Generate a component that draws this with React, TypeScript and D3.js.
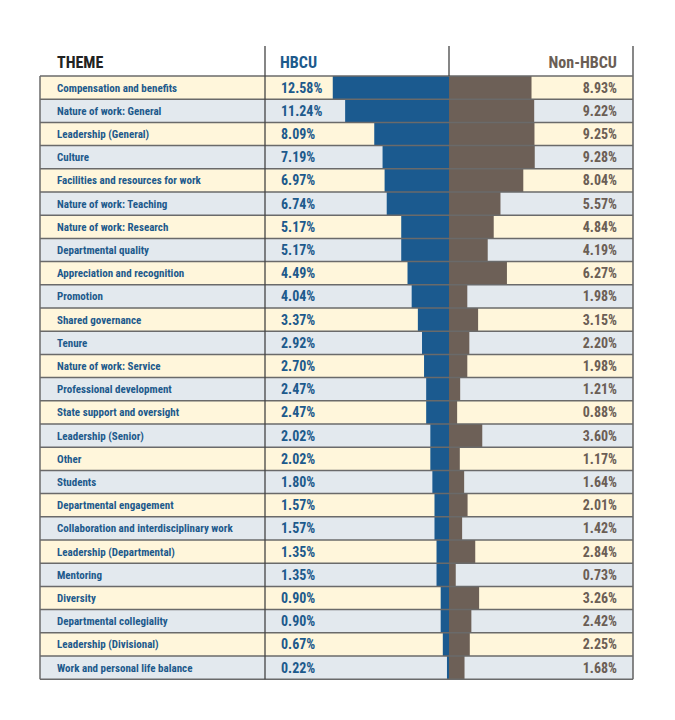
import React from 'react';
import * as d3 from 'd3';

const themes = [
  'Compensation and benefits', 'Nature of work: General', 'Leadership (General)', 'Culture',
  'Facilities and resources for work', 'Nature of work: Teaching', 'Nature of work: Research',
  'Departmental quality', 'Appreciation and recognition', 'Promotion', 'Shared governance', 'Tenure',
  'Nature of work: Service', 'Professional development', 'State support and oversight',
  'Leadership (Senior)', 'Other', 'Students', 'Departmental engagement',
  'Collaboration and interdisciplinary work', 'Leadership (Departmental)', 'Mentoring', 'Diversity',
  'Departmental collegiality', 'Leadership (Divisional)', 'Work and personal life balance',
];
const hbcu = [12.58, 11.24, 8.09, 7.19, 6.97, 6.74, 5.17, 5.17, 4.49, 4.04, 3.37, 2.92, 2.70, 2.47, 2.47, 2.02, 2.02, 1.80, 1.57, 1.57, 1.35, 1.35, 0.90, 0.90, 0.67, 0.22];
const nonHbcu = [8.93, 9.22, 9.25, 9.28, 8.04, 5.57, 4.84, 4.19, 6.27, 1.98, 3.15, 2.20, 1.98, 1.21, 0.88, 3.60, 1.17, 1.64, 2.01, 1.42, 2.84, 0.73, 3.26, 2.42, 2.25, 1.68];

const W = 675;
const H = 720;
const left = 40;
const colTheme = 265;
const mid = 449;
const right = 633;
const top = 76;
const rowH = 23.2;

const BLUE = '#1b5a8f';
const BROWN = '#6d6057';
const TEXT_BLUE = '#1d5a8c';
const TEXT_BROWN = '#6b5e55';
const LINE = '#6a6a6a';
const FONT = '"Liberation Sans Narrow", "Roboto Condensed", "DejaVu Sans Condensed", sans-serif';

export default function App() {
  const y = d3.scaleBand<number>()
    .domain(d3.range(themes.length))
    .range([top, top + rowH * themes.length]);
  // same px-per-percent on both sides of the center line
  const x = d3.scaleLinear().domain([0, 10]).range([0, 92.4]);
  const bottom = top + rowH * themes.length;

  return (
    <svg width={W} height={H} style={{ display: 'block', margin: -8 }}>
      <rect width={W} height={H} fill="#fff" />
      {themes.map((t, i) => (
        <rect key={'bg' + i} x={left} y={y(i)!} width={right - left} height={y.bandwidth()}
          fill={i % 2 === 0 ? '#fff6db' : '#e3e9ee'} />
      ))}
      {hbcu.map((v, i) => (
        <rect key={'h' + i} x={mid - x(v)} y={y(i)!} width={x(v)} height={y.bandwidth()} fill={BLUE} />
      ))}
      {nonHbcu.map((v, i) => (
        <rect key={'n' + i} x={mid} y={y(i)!} width={x(v)} height={y.bandwidth()} fill={BROWN} />
      ))}
      {/* row separators */}
      {d3.range(themes.length + 1).map(i => {
        const yy = top + i * rowH;
        return <line key={'l' + i} x1={left} x2={right} y1={yy} y2={yy} stroke={LINE} strokeWidth={1.5} />;
      })}
      <line x1={left} x2={left} y1={top} y2={bottom} stroke={LINE} strokeWidth={1.5} />
      <line x1={colTheme} x2={colTheme} y1={46} y2={bottom} stroke="#444" strokeWidth={1.3} />
      <line x1={mid} x2={mid} y1={46} y2={top} stroke="#444" strokeWidth={1.3} />
      <line x1={right} x2={right} y1={46} y2={bottom} stroke={LINE} strokeWidth={1.6} />

      <text x={57} y={68} fontFamily={FONT} fontWeight="bold" fontSize={16} fill="#222">THEME</text>
      <text x={280} y={68} fontFamily={FONT} fontWeight="bold" fontSize={16} fill={TEXT_BLUE}>HBCU</text>
      <text x={617} y={68} textAnchor="end" fontFamily={FONT} fontWeight="bold" fontSize={16} fill={TEXT_BROWN}>Non-HBCU</text>

      {themes.map((t, i) => (
        <g key={'t' + i} fontFamily={FONT} fontWeight="bold">
          <text x={57} y={y(i)! + y.bandwidth() / 2} dy="0.36em" fontSize={11} fill={TEXT_BLUE}>{t}</text>
          <text x={281} y={y(i)! + y.bandwidth() / 2} dy="0.36em" fontSize={14} fill={TEXT_BLUE}>{hbcu[i].toFixed(2)}%</text>
          <text x={617} y={y(i)! + y.bandwidth() / 2} dy="0.36em" textAnchor="end" fontSize={14} fill={TEXT_BROWN}>{nonHbcu[i].toFixed(2)}%</text>
        </g>
      ))}
    </svg>
  );
}
